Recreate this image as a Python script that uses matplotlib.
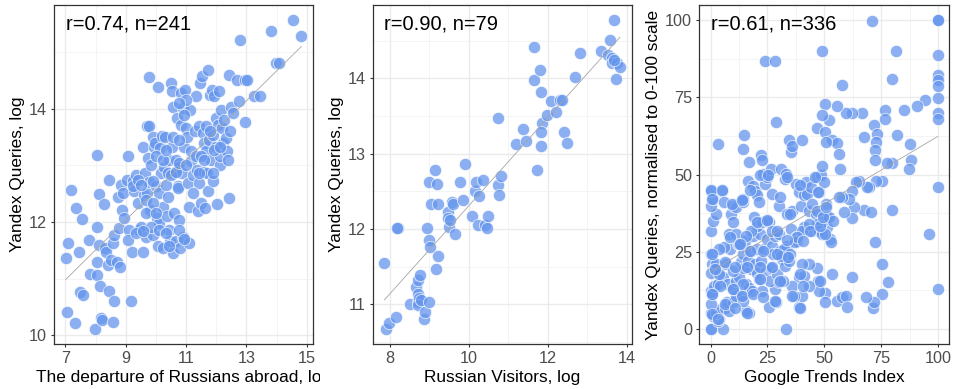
import matplotlib
matplotlib.use("Agg")
import matplotlib.pyplot as plt
import numpy as np
from matplotlib.transforms import Bbox, TransformedBbox

plt.rcParams['font.family'] = ['Liberation Sans', 'DejaVu Sans']

# panel 1: departures vs yandex queries (log)
dep_x = [7.01, 7.05, 7.32, 7.10, 7.18, 7.34, 7.45, 7.49, 7.59, 7.54, 7.79, 7.81, 7.98, 8.03, 8.04,
         8.06, 8.04, 8.12, 8.14, 8.17, 8.21, 8.12, 8.29, 8.32, 8.36, 8.40, 8.43, 8.45, 8.51, 8.56,
         8.60, 8.56, 8.62, 8.70, 8.73, 8.78, 8.81, 8.84, 8.87, 8.92, 8.95, 9.06, 9.03, 9.12, 9.21,
         9.17, 9.23, 9.28, 9.34, 9.39, 9.45, 9.50, 9.56, 9.58, 9.61, 9.65, 9.67, 9.69, 9.78, 9.78,
         9.72, 9.75, 9.78, 9.80, 9.84, 9.89, 9.91, 9.95, 9.98, 10.00, 10.03, 10.06, 10.06, 10.09, 10.11,
         10.14, 10.17, 10.20, 10.22, 10.25, 10.28, 10.31, 10.34, 10.36, 10.39, 10.42, 10.45, 10.47, 10.50, 10.53,
         10.53, 10.56, 10.57, 10.58, 10.61, 10.65, 10.67, 10.69, 10.72, 10.74, 10.76, 10.78, 10.80, 10.83, 10.83,
         10.87, 10.89, 10.91, 10.94, 10.98, 11.00, 11.02, 11.05, 11.09, 11.11, 11.13, 11.17, 11.22, 11.28, 11.33,
         11.35, 11.39, 11.42, 11.44, 11.47, 11.50, 11.53, 11.55, 11.58, 11.61, 11.64, 11.67, 11.69, 11.72, 11.72,
         11.75, 11.80, 11.83, 11.86, 11.89, 11.91, 11.94, 11.98, 12.00, 12.02, 12.05, 12.09, 12.11, 12.13, 12.16,
         12.20, 12.22, 12.27, 12.33, 12.36, 12.38, 12.42, 12.44, 12.46, 12.50, 12.55, 12.68, 12.75, 12.80, 12.97,
         13.02, 12.94, 13.24, 13.46, 13.83, 13.99, 14.08, 14.55, 14.82,
         9.23, 9.39, 9.50, 9.89, 10.00, 10.22, 10.34, 10.39, 10.50, 10.67, 10.78, 11.00, 11.17, 11.33, 11.50,
         11.61, 11.44, 11.22, 9.67, 9.84, 10.11, 10.34, 10.45, 10.78, 10.94, 9.67, 9.89, 10.00, 9.06, 9.34,
         9.58, 10.56, 10.78, 10.94, 11.00, 10.78, 11.67, 11.78, 11.94, 12.11, 11.89]
dep_y = [11.36, 10.41, 10.21, 11.63, 12.56, 12.24, 11.48, 10.77, 10.71, 12.05, 11.68, 11.08, 10.12, 11.92, 13.18,
         11.30, 11.07, 12.50, 10.87, 10.30, 10.27, 11.60, 12.32, 11.54, 11.47, 11.24, 10.79, 12.75, 11.33, 11.63,
         10.60, 10.24, 11.77, 11.30, 12.44, 11.90, 11.21, 12.66, 12.21, 12.51, 12.07, 13.17, 12.75, 11.86, 11.48,
         10.60, 12.72, 12.54, 12.83, 12.33, 11.86, 11.92, 11.48, 13.33, 12.48, 12.86, 11.74, 13.69, 13.70, 14.56,
         12.51, 13.14, 12.70, 12.21, 13.01, 13.51, 11.77, 13.33, 13.39, 12.63, 12.07, 14.38, 11.58, 11.99, 12.51,
         13.30, 12.86, 13.52, 12.27, 11.54, 12.98, 13.51, 12.66, 12.10, 12.45, 11.86, 13.10, 11.66, 14.45, 14.31,
         13.33, 14.04, 12.86, 11.45, 12.16, 13.10, 11.66, 13.84, 12.63, 12.60, 12.98, 12.04, 11.54, 14.28, 13.72,
         12.86, 11.74, 14.01, 13.33, 14.34, 13.66, 13.51, 12.69, 12.27, 11.63, 13.98, 13.07, 12.83, 13.60, 14.22,
         12.92, 12.19, 13.69, 12.69, 14.45, 12.33, 14.57, 13.57, 12.89, 13.39, 12.24, 13.25, 12.86, 14.69, 12.54,
         13.45, 14.25, 13.10, 14.34, 13.54, 12.72, 14.22, 13.84, 13.33, 12.32, 13.72, 14.31, 13.00, 13.16, 13.98,
         13.66, 13.39, 13.81, 13.49, 13.25, 13.10, 12.42, 14.60, 13.60, 14.04, 13.92, 14.51, 14.13, 15.22, 14.51,
         14.51, 13.76, 14.22, 14.22, 15.37, 14.80, 14.80, 15.56, 15.28,
         12.63, 12.75, 12.66, 12.72, 13.16, 13.10, 13.28, 12.86, 12.83, 12.89, 13.04, 13.00, 13.25, 13.16, 13.16,
         13.10, 12.86, 12.51, 12.16, 11.92, 11.86, 11.80, 11.57, 11.86, 11.71, 12.39, 12.33, 12.16, 11.68, 11.80,
         11.85, 13.50, 13.45, 13.89, 14.16, 14.10, 13.69, 13.60, 13.28, 13.33, 12.86]

# panel 2: russian visitors vs yandex queries (log)
vis_x = [7.86, 7.90, 7.98, 8.15, 8.21, 8.18, 8.51, 8.66, 8.72, 8.77, 8.72, 8.70, 8.74, 8.70, 8.78,
         8.87, 8.89, 8.94, 9.00, 9.00, 9.02, 9.05, 9.00, 9.15, 9.19, 9.21, 9.16, 9.21, 9.46, 9.48,
         9.50, 9.53, 9.56, 9.59, 9.65, 9.78, 9.84, 9.90, 10.07, 10.15, 10.19, 10.22, 10.25, 10.37, 10.41,
         10.45, 10.48, 10.73, 10.73, 10.77, 10.81, 11.19, 11.38, 11.44, 11.65, 11.65, 11.81, 11.84, 11.86, 11.84,
         11.82, 11.72, 11.97, 12.08, 12.21, 12.31, 12.35, 12.41, 12.50, 12.68, 12.82, 13.34, 13.58, 13.53, 13.64,
         13.64, 13.68, 13.75, 13.83, 13.72, 13.68]
vis_y = [11.55, 10.68, 10.75, 10.84, 12.01, 12.01, 11.00, 11.23, 11.33, 11.39, 11.14, 11.03, 11.08, 10.99, 11.06,
         10.81, 10.90, 12.01, 11.03, 11.85, 11.76, 12.34, 12.63, 12.78, 12.60, 11.65, 11.47, 12.33, 12.23, 12.15,
         12.03, 12.12, 12.36, 12.33, 11.93, 12.63, 12.39, 12.86, 12.18, 12.51, 12.63, 12.05, 12.44, 12.65, 12.05,
         12.02, 12.17, 13.48, 12.58, 12.45, 12.71, 13.13, 13.33, 13.17, 14.42, 13.98, 14.11, 13.82, 13.41, 13.29,
         13.10, 12.78, 13.51, 13.70, 13.56, 13.72, 13.72, 13.29, 13.14, 14.02, 14.34, 14.37, 14.51, 14.31, 14.27,
         14.20, 14.77, 14.20, 14.15, 13.99, 14.24]

# panel 3: google trends vs yandex queries (0-100)
gt_x = [71.2, 100, 100, 48.9, 24.0, 28.4, 81.4, 100, 79.6, 58.0, 100, 100, 100, 100, 94.3,
        90.9, 85.1, 100, 100, 76.7, 76.7, 72.0, 73.3, 72.6, 72.3, 72.3, 67.5, 66.5, 62.4, 59.4,
        55.8, 50.4, 52.1, 49.1, 46.9, 50.4, 53.6, 55.8, 56.3, 56.9, 50.7, 82.1, 87.6, 88.1, 87.1,
        79.6, 77.7, 100, 79.6, 96.0, 100, 75.3, 75.5, 78.1, 72.3, 71.5, 71.9, 68.2, 75.5, 72.6,
        69.7, 68.9, 67.5, 70.4, 65.3, 63.8, 62.4, 63.1, 62.4, 60.9, 58.0, 56.5, 58.7, 51.4, 52.4,
        52.9, 53.6, 55.8, 57.7, 59.4, 60.0, 62.4, 50.4, 50.4, 47.4, 46.9, 47.7, 43.3, 43.3, 40.4,
        39.0, 39.0, 40.4, 36.7, 33.1, 36.0, 41.1, 25.8, 28.6, 28.4, 16.7, 15.5, 5.3, 0.1, 0.0,
        3.1, 3.5, 1.2, 0.1, 2.3, 4.5, 6.4, 8.2, 7.0, 9.7, 11.1, 14.1, 14.3, 0.1, 0.6,
        0.1, 1.6, 3.1, 5.3, 7.5, 10.0, 11.1, 12.6, 15.5, 17.0, 18.4, 17.7, 0.1, 0.6, 1.6,
        0.1, 2.3, 3.8, 6.7, 8.5, 9.7, 11.9, 13.2, 14.1, 14.8, 15.2, 16.3, 17.7, 18.7, 19.6,
        20.2, 20.6, 21.4, 21.7, 22.1, 22.8, 23.6, 24.3, 25.0, 25.5, 26.1, 26.5, 27.0, 27.5, 28.4,
        29.4, 29.9, 30.5, 31.3, 31.9, 32.8, 33.4, 33.8, 34.6, 35.3, 35.7, 0.1, 1.2, 2.3, 0.1,
        1.2, 0.1, 5.0, 6.0, 3.1, 8.9, 9.7, 11.1, 14.1, 14.1, 14.8, 14.1, 17.0, 16.4, 18.7,
        19.6, 20.6, 21.4, 22.1, 22.5, 23.1, 24.0, 25.0, 26.5, 27.2, 28.7, 29.9, 30.9, 32.8, 33.1,
        33.8, 34.6, 35.3, 36.0, 40.1, 37.5, 39.0, 39.7, 41.1, 41.9, 42.6, 43.3, 44.1, 44.8, 46.3,
        46.9, 47.7, 48.4, 49.2, 49.9, 50.7, 51.4, 49.2, 46.9, 44.8, 41.1, 37.5, 38.2, 40.4, 43.3,
        47.7, 49.2, 50.4, 46.9, 52.1, 53.9, 8.2, 9.7, 11.1, 12.6, 6.0, 3.8, 19.2, 20.2, 17.7,
        15.5, 22.5, 25.0, 27.2, 30.2, 32.2, 34.8, 37.2, 30.9,
        0.0, 4.8, 0.4, 9.2, 13.6, 17.3, 21.7, 25.3, 33.4, 39.2, 45.8, 47.3, 20.2, 24.6, 8.5,
        12.9, 17.3, 23.1, 29.0, 34.1, 0.4, 1.9, 6.3, 10.7, 15.8, 21.7, 26.8, 30.4, 21.7, 14.3,
        9.9, 4.1, 0.4, 13.6, 18.7, 23.1, 6.3, 10.7, 15.8, 0.4, 3.3, 39.2, 40.7, 48.0, 35.6,
        39.2, 28.2, 43.6, 48.0, 37.8, 40.7, 49.5, 50.9, 30.4, 34.8, 29.0, 33.4]
gt_y = [99.9, 100, 100, 90.1, 86.9, 86.9, 90.1, 88.7, 80.9, 79.0, 82.2, 80.6, 78.6, 74.8, 74.1,
        72.1, 70.8, 70.0, 68.1, 70.8, 68.1, 66.0, 63.2, 60.5, 58.0, 54.6, 62.1, 70.0, 70.0, 70.0,
        72.1, 73.0, 67.6, 69.2, 65.1, 63.8, 61.1, 60.2, 56.7, 51.8, 60.5, 62.9, 60.0, 54.8, 51.8,
        53.7, 53.7, 45.9, 38.5, 30.7, 12.8, 20.9, 11.2, 15.0, 28.0, 6.8, 8.5, 10.1, 48.0, 48.0,
        45.9, 45.9, 38.5, 37.7, 48.0, 47.5, 44.8, 39.4, 35.9, 42.1, 42.6, 42.6, 37.7, 32.9, 29.1,
        28.0, 17.7, 9.0, 10.1, 10.6, 7.0, 16.8, 11.7, 8.5, 15.5, 19.8, 12.3, 20.9, 13.9, 20.9,
        16.6, 7.0, 10.6, 10.6, 0.0, 13.9, 17.1, 7.0, 8.5, 12.8, 5.2, 5.7, 0.0, 0.0, 0.0,
        2.5, 3.0, 4.1, 5.2, 5.2, 6.3, 6.8, 5.7, 8.5, 8.5, 10.6, 11.2, 9.0, 12.3, 11.2,
        7.9, 13.9, 14.4, 16.6, 14.4, 12.8, 15.5, 16.6, 14.4, 13.3, 12.3, 19.3, 24.2, 20.9, 19.3,
        18.2, 20.9, 17.7, 20.9, 25.8, 18.8, 27.4, 21.5, 24.2, 19.8, 28.5, 22.0, 25.3, 30.2, 20.9,
        25.8, 18.2, 16.1, 30.7, 22.0, 12.3, 25.8, 18.8, 29.1, 34.5, 15.5, 19.8, 26.9, 24.2, 30.2,
        17.7, 15.0, 25.3, 22.6, 15.5, 20.4, 26.9, 23.1, 22.0, 32.3, 38.3, 31.8, 35.0, 37.2, 39.9,
        42.1, 44.8, 44.8, 41.0, 60.0, 37.2, 39.9, 39.4, 41.0, 41.9, 62.7, 58.4, 54.0, 48.0, 46.4,
        44.8, 43.2, 41.0, 56.2, 54.6, 50.2, 47.0, 49.1, 51.8, 43.7, 67.0, 39.9, 51.8, 48.6, 50.2,
        37.2, 61.1, 57.3, 59.4, 61.1, 47.0, 44.3, 39.9, 43.2, 47.5, 43.7, 38.3, 45.9, 40.5, 37.2,
        49.1, 44.3, 49.7, 52.9, 47.5, 40.5, 36.1, 34.5, 33.9, 31.8, 32.9, 29.6, 28.5, 31.8, 33.9,
        31.8, 30.7, 30.7, 38.3, 36.1, 35.0, 30.7, 34.5, 30.7, 27.4, 26.4, 25.8, 36.1, 33.4, 31.8,
        30.2, 34.5, 35.0, 31.8, 30.7, 25.8, 24.2, 28.0, 23.4,
        44.9, 44.9, 42.1, 40.5, 41.6, 44.9, 49.7, 49.7, 49.2, 46.5, 49.2, 44.3, 34.5, 35.1, 29.6,
        27.5, 25.3, 25.3, 24.2, 23.1, 24.2, 19.3, 21.5, 19.9, 19.9, 19.9, 19.9, 15.5, 16.1, 14.5,
        12.8, 13.9, 11.2, 10.7, 11.2, 10.1, 7.9, 6.8, 5.2, 4.7, 3.1, 17.7, 13.9, 15.5, 10.7,
        6.8, 9.0, 31.8, 33.4, 29.6, 28.5, 36.1, 39.4, 42.7, 37.3, 31.8, 28.6]

# tick positions (major, minor) per panel
dep_xticks = [7, 9, 11, 13, 15]
dep_xminor = [8, 10, 12, 14]
dep_yticks = [10, 12, 14]
dep_yminor = [11, 13, 15]
vis_xticks = [8, 10, 12, 14]
vis_xminor = [9, 11, 13]
vis_yticks = [11, 12, 13, 14]
vis_yminor = [10.5, 11.5, 12.5, 13.5, 14.5]
gt_ticks = [0, 25, 50, 75, 100]
gt_minor = [12.5, 37.5, 62.5, 87.5]

panels = [
    (dep_x, dep_y, "The departure of Russians abroad, log", "Yandex Queries, log",
     "r=0.74, n=241", dep_xticks, dep_xminor, dep_yticks, dep_yminor),
    (vis_x, vis_y, "Russian Visitors, log", "Yandex Queries, log",
     "r=0.90, n=79", vis_xticks, vis_xminor, vis_yticks, vis_yminor),
    (gt_x, gt_y, "Google Trends Index", "Yandex Queries, normalised to 0-100 scale",
     "r=0.61, n=336", gt_ticks, gt_minor, gt_ticks, gt_minor),
]

W, H = 956, 389
fig = plt.figure(figsize=(W / 100, H / 100), dpi=100)

# axes boxes in pixels: left, right
boxes = [(54, 313), (372.7, 631.7), (699.3, 949.3)]
ylab_x = [-0.112, -0.111, -0.153]
top, bottom = 5, 344

for i, (xs, ys, xl, yl, note, xmaj, xmin, ymaj, ymin) in enumerate(panels):
    l, r = boxes[i]
    ax = fig.add_axes([l / W, (H - bottom) / H, (r - l) / W, (bottom - top) / H])
    xs = np.array(xs)
    ys = np.array(ys)

    ax.scatter(xs, ys, s=78, color='#6495ED', alpha=0.75, edgecolors='white', linewidths=0.6, zorder=2)

    # linear fit line
    k, b = np.polyfit(xs, ys, 1)
    lx = np.array([xs.min(), xs.max()])
    ax.plot(lx, k * lx + b, color='#A6A6A6', linewidth=0.6, zorder=3)

    ax.margins(0.05)
    ax.set_xticks(xmaj)
    ax.set_xticks(xmin, minor=True)
    ax.set_yticks(ymaj)
    ax.set_yticks(ymin, minor=True)
    ax.grid(which='major', color='#EBEBEB', linewidth=1.0)
    ax.grid(which='minor', color='#F2F2F2', linewidth=0.6)
    ax.set_axisbelow(True)

    for sp in ax.spines.values():
        sp.set_color('#333333')
        sp.set_linewidth(0.9)
    ax.tick_params(which='major', length=2.2, width=0.8, color='#333333', labelcolor='#4D4D4D',
                   labelsize=11.7, pad=3)
    ax.tick_params(which='minor', length=0)

    ax.set_xlabel(xl, fontsize=12.4, color='black')
    ax.set_ylabel(yl, fontsize=12.4, color='black')
    ax.xaxis.set_label_coords(0.5, -0.078)
    ax.yaxis.set_label_coords(ylab_x[i], 0.5)

    ax.text(xs.min(), 0.929, note, transform=ax.get_xaxis_transform(), fontsize=14.5,
            ha='left', va='baseline')

    if i == 0:
        lab = ax.xaxis.label
        lab.set_clip_on(True)
        lab.set_clip_box(TransformedBbox(Bbox([[0, 0], [320 / W, 1]]), fig.transFigure))

fig.savefig("out.png", dpi=100)
